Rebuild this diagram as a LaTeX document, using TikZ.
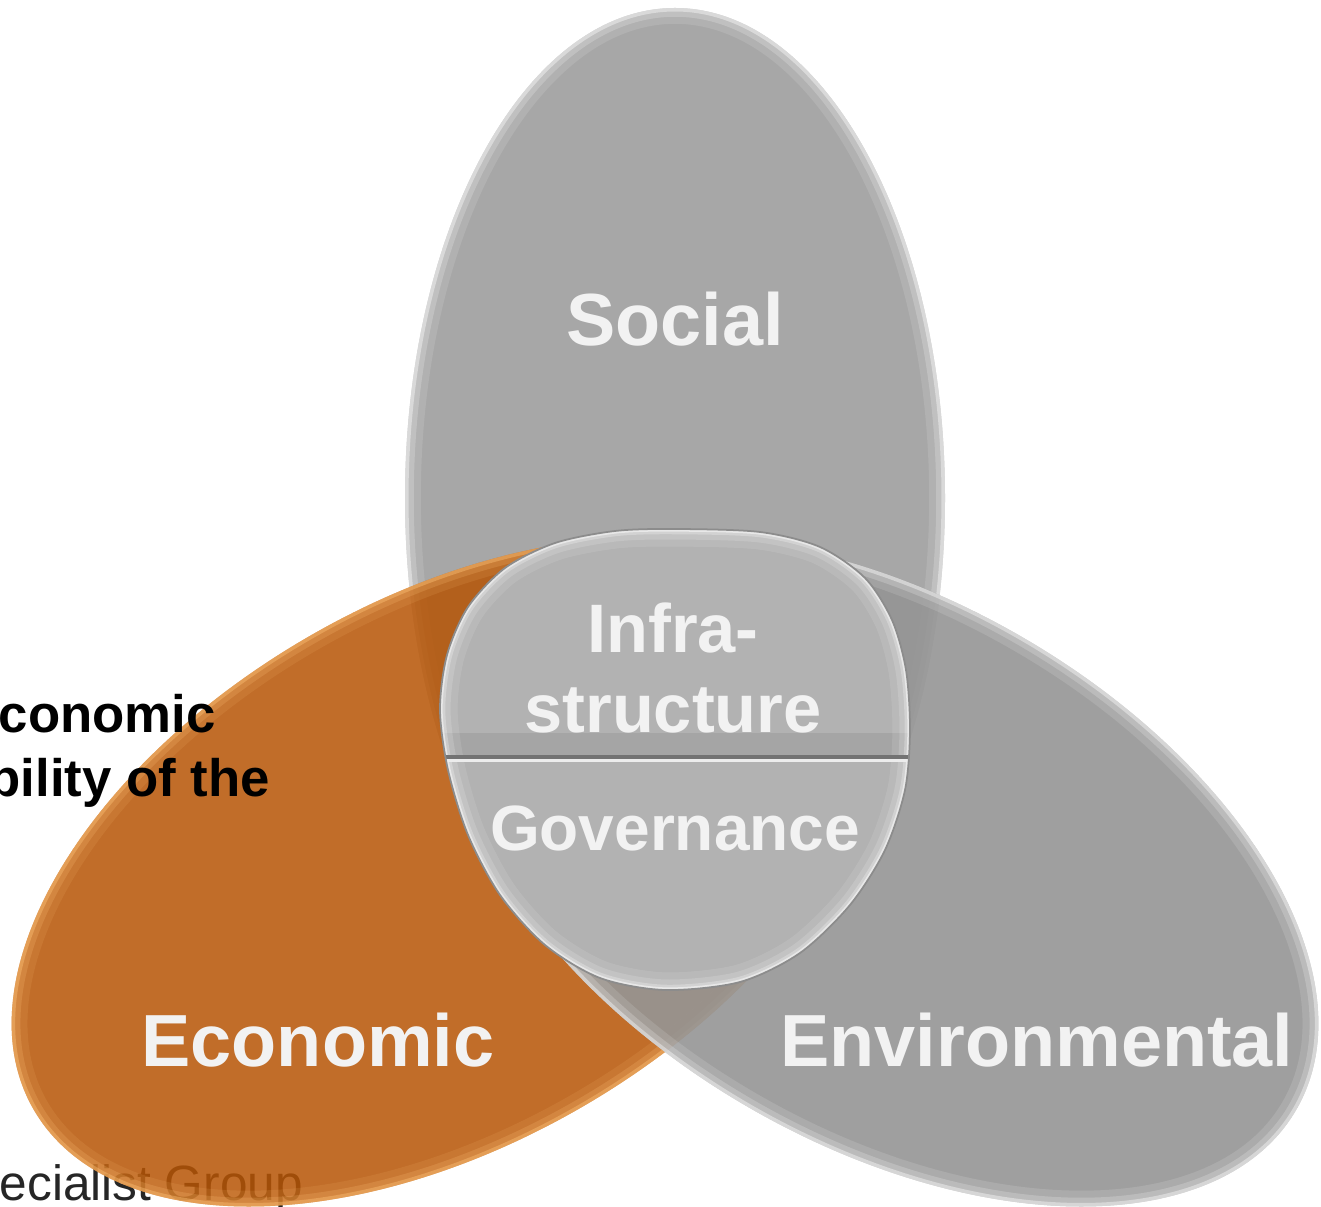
\documentclass[tikz,border=0pt]{standalone}
\usepackage{fontspec}
\setmainfont{Liberation Sans}
\usepackage{tikz}

\definecolor{socialgray}{RGB}{167,167,167}
\definecolor{envgray}{RGB}{149,149,149}
\definecolor{ecoorange}{RGB}{182,84,4}
\definecolor{ecoglow}{RGB}{255,196,120}
\definecolor{coregray}{RGB}{178,178,178}
\definecolor{labelwhite}{RGB}{242,242,242}

% the three circles and the common core
\def\socialpath{(675,498) ellipse [x radius=270, y radius=490]}
\def\economicpath{(445,872) ellipse [x radius=475, y radius=272, rotate=30]}
\def\environpath{(885,872) ellipse [x radius=475, y radius=272, rotate=-30]}
\def\corepath{plot[smooth cycle] coordinates {(675,529) (760,532) (820,547) (865,578) (892,620) (906,670) (910,730) (905,790) (885,850) (850,905) (800,953) (740,982) (665,990) (600,978) (545,945) (500,895) (468,835) (448,770) (440,710) (447,655) (468,607) (505,568) (555,543) (615,531)}}

\begin{document}
\begin{tikzpicture}[x=0.01cm, y=-0.01cm,
		biglabel/.style={text=labelwhite, font=\bfseries\fontsize{21}{25}\selectfont, inner sep=0pt},
		corelabel/.style={text=labelwhite, font=\bfseries\fontsize{19.5}{23}\selectfont, inner sep=0pt, align=center},
		sidetext/.style={text=black, font=\bfseries\fontsize{15}{18}\selectfont, inner sep=0pt},
		foottext/.style={text=black!85, font=\fontsize{14.1}{17}\selectfont, inner sep=0pt}]
	\useasboundingbox (0,0) rectangle (1321,1207);
	\clip (0,0) rectangle (1321,1207);

	\node[foottext, anchor=base west] (footer) at (-1,1200) {ecialist Group};

	% Social
	\fill[socialgray] \socialpath;
	\begin{scope}
		\clip \socialpath;
		\foreach \w/\o in {9/0.12, 5/0.2, 2/0.4}
			\draw[white, line width=\w pt, opacity=\o] \socialpath;
	\end{scope}

	% Economic
	\fill[ecoorange, opacity=0.85] \economicpath;
	\begin{scope}
		\clip \economicpath;
		\foreach \w/\o in {9/0.12, 5/0.2, 2/0.4}
			\draw[ecoglow, line width=\w pt, opacity=\o] \economicpath;
	\end{scope}

	% Environmental
	\fill[envgray, opacity=0.9] \environpath;
	\begin{scope}
		\clip \environpath;
		\foreach \w/\o in {9/0.12, 5/0.2, 2/0.4}
			\draw[white, line width=\w pt, opacity=\o] \environpath;
	\end{scope}

	% core
	\fill[coregray] \corepath;
	\coordinate (splitL) at (430,757);
	\coordinate (splitR) at (920,757);
	\begin{scope}
		\clip \corepath;
		\fill[black, opacity=0.07] (430,733) rectangle (920,757);
		\foreach \w/\o in {10/0.10, 6/0.15, 3/0.25, 1.5/0.5}
			\draw[white, line width=\w pt, opacity=\o] \corepath;
		\draw[black!55, line width=1pt] (splitL) -- (splitR);
		\draw[white!85!gray, line width=0.6pt] ([yshift=-1pt]splitL) -- ([yshift=-1pt]splitR);
	\end{scope}
	\draw[black!45, line width=0.5pt] \corepath;

	\node[biglabel, anchor=base] (social) at (675,346) {Social};
	\node[biglabel, anchor=base] (economic) at (318,1067) {Economic};
	\node[biglabel, anchor=base] (environmental) at (1037,1067) {Environmental};
	\node[corelabel, anchor=base] (infra) at (673,733) {Infra-\\structure};
	\node[corelabel, anchor=base, font=\bfseries\fontsize{18.2}{22}\selectfont] (governance) at (675,851) {Governance};

	\node[sidetext, anchor=base west] (sidetop) at (-2,733) {conomic};
	\node[sidetext, anchor=base west] (sidebottom) at (-12,797) {bility of the};
\end{tikzpicture}
\end{document}
